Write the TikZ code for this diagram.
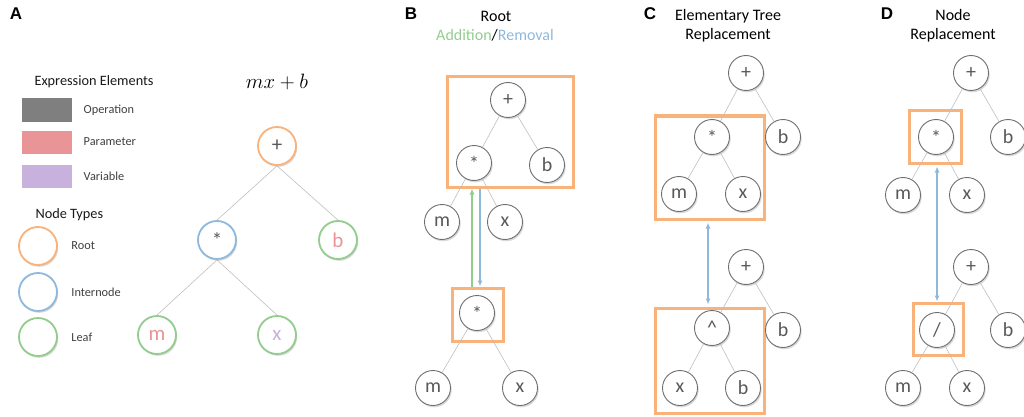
\documentclass[tikz,border=0pt]{standalone}
\usepackage{fontspec}
\setmainfont{Carlito}
\newfontfamily\labfont{Liberation Sans}
\usetikzlibrary{positioning, arrows.meta, shadows}

\definecolor{opgray}{HTML}{7F7F7F}
\definecolor{parampink}{HTML}{E99598}
\definecolor{varpurple}{HTML}{C9B1DE}
\definecolor{orangec}{HTML}{FAB27B}
\definecolor{bluec}{HTML}{8EB9DD}
\definecolor{greenc}{HTML}{93CD8E}
\definecolor{nodegray}{HTML}{6E6E6E}
\definecolor{txtgray}{HTML}{595959}
\definecolor{edgegray}{HTML}{BFBFBF}

\begin{document}
\begin{tikzpicture}[
  x=1pt, y=-1pt,
  tnode/.style={circle, draw=nodegray, line width=0.9pt, fill=white, minimum size=35pt,
    inner sep=0pt, text=txtgray, font=\fontsize{20}{20}\selectfont,
    drop shadow={shadow xshift=1.2pt, shadow yshift=-1.8pt, opacity=0.3}},
  anode/.style={tnode, minimum size=38pt, line width=1.8pt, font=\fontsize{21}{21}\selectfont},
  edge/.style={draw=edgegray, line width=0.6pt},
  selbox/.style={draw=orangec, line width=3pt, inner sep=0pt},
  swatch/.style={fill, minimum width=50pt, minimum height=23pt, inner sep=0pt},
  legtext/.style={font=\fontsize{12.3}{12.3}\selectfont, text=black!75},
  headtext/.style={font=\fontsize{14.3}{14.3}\selectfont, text=black!90},
  title/.style={font=\fontsize{16}{19}\selectfont, align=center},
  panlab/.style={font=\labfont\bfseries\fontsize{17}{17}\selectfont},
  addarrow/.style={draw=greenc, line width=1.3pt, -{Latex[length=6pt,width=5pt]}},
  remarrow/.style={draw=bluec, line width=1.3pt, -{Latex[length=6pt,width=5pt]}},
  swaparrow/.style={draw=bluec, line width=1.3pt, {Latex[length=6pt,width=5pt]}-{Latex[length=6pt,width=5pt]}}
]
\useasboundingbox (0,0) rectangle (1024,417);

% A: legend and example tree
\node[panlab] at (16,14) {A};
\node[headtext, anchor=west] (hexpr) at (31,82) {Expression Elements};
\node[swatch, fill=opgray] (swop) at (47,110) {};
\node[legtext, right=8pt of swop] {Operation};
\node[swatch, fill=parampink] (swpar) at (47,142) {};
\node[legtext, right=8pt of swpar] {Parameter};
\node[swatch, fill=varpurple] (swvar) at (47,176) {};
\node[legtext, right=8pt of swvar] {Variable};
\node[headtext, anchor=west] (htypes) at (32,215) {Node Types};
\node[anode, draw=orangec] (lroot) at (38,246) {};
\node[legtext, right=10pt of lroot] {Root};
\node[anode, draw=bluec] (linner) at (38,292) {};
\node[legtext, right=10pt of linner] {Internode};
\node[anode, draw=greenc] (lleaf) at (38,337) {};
\node[legtext, right=10pt of lleaf] {Leaf};

\node (eq) at (277,82) {\fontsize{20}{20}\selectfont$mx+b$};
\node[anode, draw=orangec] (aplus) at (277,146) {+};
\node[anode, draw=bluec] (atimes) at (217,240) {\raisebox{-0.3em}{*}};
\node[anode, draw=greenc, text=parampink] (ab) at (338,240) {b};
\node[anode, draw=greenc, text=parampink] (am) at (157,335) {m};
\node[anode, draw=greenc, text=varpurple] (ax) at (277,335) {x};
\draw[edge] (aplus.south) -- (atimes.north) (aplus.south) -- (ab.north)
  (atimes.south) -- (am.north) (atimes.south) -- (ax.north);

% B: root addition / removal
\node[panlab] at (411,14) {B};
\node[title] at (496,16) {Root};
\node[title] at (495,35) {\textcolor{greenc}{Addition}/\textcolor{bluec}{Removal}};
\node[selbox, minimum width=126pt, minimum height=110pt] (boxB1) at (510,132) {};
\node[selbox, minimum width=51pt, minimum height=53pt] (boxB2) at (477.5,314.5) {};
\node[tnode] (bplus) at (508,100) {+};
\node[tnode] (btimes) at (474,163) {*};
\node[tnode] (bb) at (547,165) {b};
\node[tnode] (bm) at (442,222) {m};
\node[tnode] (bx) at (505,222) {x};
\node[tnode] (btimes2) at (477,313) {*};
\node[tnode] (bm2) at (433,388) {m};
\node[tnode] (bx2) at (520,388) {x};
\draw[edge] (bplus) -- (btimes) (bplus) -- (bb) (btimes) -- (bm) (btimes) -- (bx)
  (btimes2) -- (bm2) (btimes2) -- (bx2);
\coordinate (gB) at ([xshift=-5.5pt]boxB2.north);
\coordinate (rB) at ([xshift=2.5pt]boxB1.south -| boxB2.north);
\draw[addarrow] (gB) -- (gB |- boxB1.south);
\draw[remarrow] (rB) -- (rB |- boxB2.north);

% C: elementary tree replacement
\node[panlab] at (650,14) {C};
\node[title] at (728,26) {Elementary Tree\\Replacement};
\node[selbox, minimum width=109pt, minimum height=103pt] (boxC1) at (709.5,167.5) {};
\node[selbox, minimum width=109pt, minimum height=105pt] (boxC2) at (709.5,360.5) {};
\node[tnode] (cplus) at (746,73) {+};
\node[tnode] (ctimes) at (712,137) {*};
\node[tnode] (cb) at (783,137) {b};
\node[tnode] (cm) at (679,194) {m};
\node[tnode] (cx) at (743,194) {x};
\node[tnode] (cplus2) at (746,267) {+};
\node[tnode] (cpow) at (712,328) {\textasciicircum};
\node[tnode] (cb2) at (783,330) {b};
\node[tnode] (cx2) at (680,388) {x};
\node[tnode] (cb3) at (743,388) {b};
\draw[edge] (cplus) -- (ctimes) (cplus) -- (cb) (ctimes) -- (cm) (ctimes) -- (cx)
  (cplus2) -- (cpow) (cplus2) -- (cb2) (cpow) -- (cx2) (cpow) -- (cb3);
\coordinate (sC) at ([xshift=-1.5pt]boxC1.south);
\draw[swaparrow, shorten <=2pt, shorten >=2pt] (sC) -- (sC |- boxC2.north);

% D: node replacement
\node[panlab] at (887,14) {D};
\node[title] at (953,26) {Node\\Replacement};
\node[selbox, minimum width=52pt, minimum height=52pt] (boxD1) at (935,137) {};
\node[selbox, minimum width=50pt, minimum height=52pt] (boxD2) at (938,329) {};
\node[tnode] (dplus) at (971,73) {+};
\node[tnode] (dtimes) at (936,137) {*};
\node[tnode] (db) at (1008,137) {b};
\node[tnode] (dm) at (903,195) {m};
\node[tnode] (dx) at (967,195) {x};
\node[tnode] (dplus2) at (971,267) {+};
\node[tnode] (ddiv) at (937,330) {/};
\node[tnode] (db2) at (1008,330) {b};
\node[tnode] (dm2) at (903,388) {m};
\node[tnode] (dx2) at (967,388) {x};
\draw[edge] (dplus) -- (dtimes) (dplus) -- (db) (dtimes) -- (dm) (dtimes) -- (dx)
  (dplus2) -- (ddiv) (dplus2) -- (db2) (ddiv) -- (dm2) (ddiv) -- (dx2);
\coordinate (sD) at ([xshift=2pt]boxD1.south);
\draw[swaparrow, shorten <=2pt] (sD) -- (sD |- boxD2.north);
\end{tikzpicture}
\end{document}
